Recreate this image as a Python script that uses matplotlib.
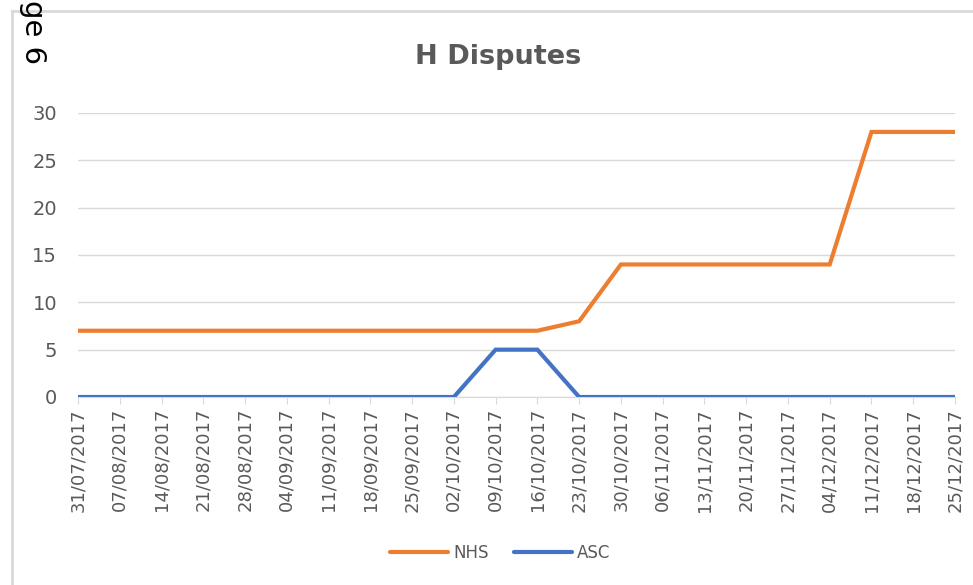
import matplotlib
matplotlib.use("Agg")
import matplotlib.pyplot as plt
from matplotlib.lines import Line2D

dates = ["31/07/2017", "07/08/2017", "14/08/2017", "21/08/2017", "28/08/2017",
         "04/09/2017", "11/09/2017", "18/09/2017", "25/09/2017", "02/10/2017",
         "09/10/2017", "16/10/2017", "23/10/2017", "30/10/2017", "06/11/2017",
         "13/11/2017", "20/11/2017", "27/11/2017", "04/12/2017", "11/12/2017",
         "18/12/2017", "25/12/2017"]
nhs = [7, 7, 7, 7, 7, 7, 7, 7, 7, 7, 7, 7, 8, 14, 14, 14, 14, 14, 14, 28, 28, 28]
asc = [0, 0, 0, 0, 0, 0, 0, 0, 0, 0, 5, 5, 0, 0, 0, 0, 0, 0, 0, 0, 0, 0]
yticks = [0, 5, 10, 15, 20, 25, 30]

grey = "#595959"
fig = plt.figure(figsize=(9.73, 5.85), dpi=100)
ax = fig.add_axes([78/973, 1-397/585, (955-78)/973, (397-113)/585])

x = range(len(dates))
ax.plot(x, nhs, color="#ED7D31", lw=3, solid_capstyle="round", solid_joinstyle="miter", label="NHS", zorder=3)
ax.plot(x, asc, color="#4472C4", lw=3, solid_capstyle="round", solid_joinstyle="miter", label="ASC", zorder=3)

ax.set_xlim(0, len(dates)-1)
ax.set_ylim(0, 30)
ax.set_yticks(yticks)
ax.set_xticks(list(x))
ax.set_xticklabels(dates, rotation=90, fontsize=13, color=grey)
ax.tick_params(axis="y", length=0, labelsize=14, labelcolor=grey, pad=15)
ax.tick_params(axis="x", length=5, color="#D9D9D9", pad=3)
ax.grid(axis="y", color="#D9D9D9", lw=1)
ax.set_axisbelow(True)
for s in ["top", "right", "left"]:
    ax.spines[s].set_visible(False)
ax.spines["bottom"].set_color("#D9D9D9")

fig.text(498/973, 1-57/585, "H Disputes", ha="center", va="center",
         fontsize=19.5, fontweight="bold", color=grey)

fig.legend(loc="center", bbox_to_anchor=(500/973, 1-553/585), ncol=2, frameon=False,
           fontsize=12, labelcolor=grey, handlelength=3.5, handletextpad=0.3, columnspacing=1.5)

# frame of the pasted chart and the visible part of the page label
fig.add_artist(Line2D([12/973, 12/973], [0, 1-11/585], color="#D9D9D9", lw=2))
fig.add_artist(Line2D([12/973, 1], [1-11/585, 1-11/585], color="#D9D9D9", lw=2))
fig.text(33/973, 1-64/585, "ge 6", rotation=-90, ha="center", va="bottom", fontsize=21, color="black")

fig.savefig("out.png", dpi=100)
